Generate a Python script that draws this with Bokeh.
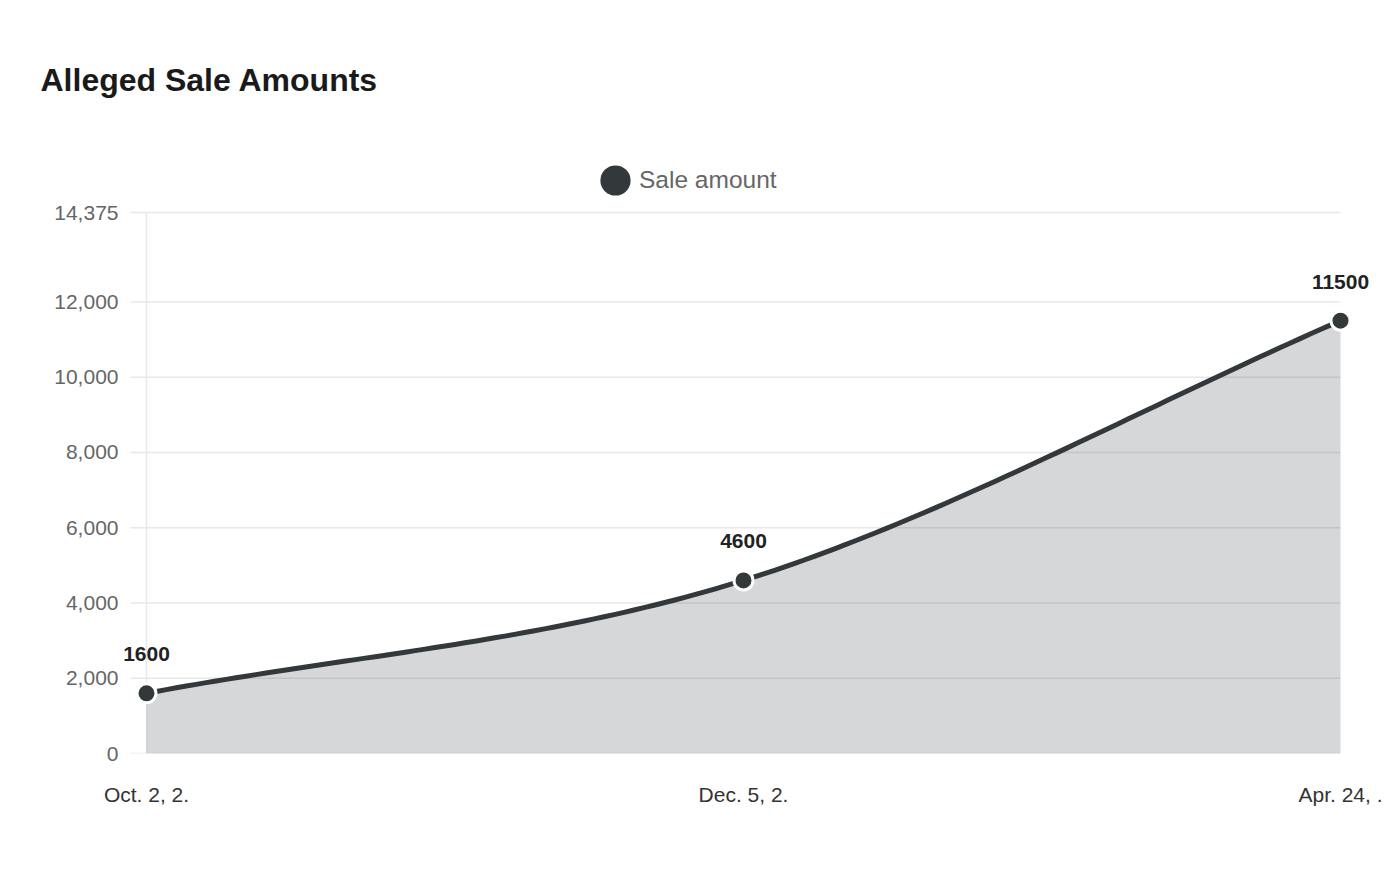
import numpy as np
from bokeh.plotting import figure
from bokeh.models import Range1d, FixedTicker, NumeralTickFormatter, Legend, LegendItem
from bokeh.core.properties import value
from bokeh.embed import file_html
from bokeh.resources import INLINE

# ---- data ----
title_text = "Alleged Sale Amounts"
series_name = "Sale amount"
dates = ["Oct. 2, 2.", "Dec. 5, 2.", "Apr. 24, ."]
amounts = [1600, 4600, 11500]
y_ticks = [0, 2000, 4000, 6000, 8000, 10000, 12000, 14375]

FONT = "Liberation Sans"
DARK = "#33383b"
GRID = "#e8e8e8"

idx = list(range(len(amounts)))


def monotone_curve(xs, ys, n=60):
    """Monotone cubic (Fritsch-Carlson) rendering path through the data points."""
    xs = np.asarray(xs, float)
    ys = np.asarray(ys, float)
    d = np.diff(ys) / np.diff(xs)
    m = np.empty(len(xs))
    m[0], m[-1] = d[0], d[-1]
    for i in range(1, len(xs) - 1):
        m[i] = 0.0 if d[i - 1] * d[i] <= 0 else (d[i - 1] + d[i]) / 2
    for i in range(len(d)):
        if d[i] == 0:
            m[i] = m[i + 1] = 0.0
            continue
        a, b = m[i] / d[i], m[i + 1] / d[i]
        s = a * a + b * b
        if s > 9:
            t = 3 / np.sqrt(s)
            m[i], m[i + 1] = t * a * d[i], t * b * d[i]
    cx, cy = [], []
    for i in range(len(d)):
        h = xs[i + 1] - xs[i]
        t = np.linspace(0, 1, n, endpoint=(i == len(d) - 1))
        h00 = 2 * t**3 - 3 * t**2 + 1
        h10 = t**3 - 2 * t**2 + t
        h01 = -2 * t**3 + 3 * t**2
        h11 = t**3 - t**2
        cx.extend(xs[i] + t * h)
        cy.extend(h00 * ys[i] + h10 * h * m[i] + h01 * ys[i + 1] + h11 * h * m[i + 1])
    return cx, cy


cx, cy = monotone_curve(idx, amounts)

# ---- layout (pixels) ----
W, H = 1384, 864
FL, FT, FB = 100, 130, 753          # frame left / top / bottom
PX_X = 597                          # px per category step
X0_PX = 146                         # px of first category
GRID_LEFT_PX = 130
PLOT_PX = 541                       # px from 0 to top tick

x_start = -(X0_PX - FL) / PX_X
x_end = x_start + (W - FL) / PX_X
grid_x0 = -(X0_PX - GRID_LEFT_PX) / PX_X
y_end = y_ticks[-1] * (FB - FT) / PLOT_PX

p = figure(width=W, height=H, output_backend="svg", toolbar_location=None,
           x_range=Range1d(x_start, x_end), y_range=Range1d(0, y_end),
           min_border_left=FL, min_border_right=0, min_border_top=FT, min_border_bottom=H - FB,
           background_fill_color="white", border_fill_color="white")
p.outline_line_color = None
p.xgrid.visible = False
p.ygrid.visible = False

# title
p.title.text = title_text
p.title.text_font = FONT
p.title.text_font_size = "32px"
p.title.text_font_style = "bold"
p.title.text_color = "#1a1a1a"
p.title.align = "left"
p.title.offset = -60
try:
    p.title.standoff = 65
except Exception:
    pass

# gridlines (drawn as segments so they stop at the last category)
p.segment(x0=[grid_x0] * len(y_ticks), x1=[idx[-1]] * len(y_ticks), y0=y_ticks, y1=y_ticks,
          line_color=GRID, line_width=1.5)
p.segment(x0=[idx[0]], x1=[idx[0]], y0=[0], y1=[y_ticks[-1]], line_color=GRID, line_width=1.5)

# area + line
p.patch(x=cx + [idx[-1], idx[0]], y=cy + [0, 0], fill_color=DARK, fill_alpha=0.2, line_color=None)
p.line(x=cx, y=cy, line_color=DARK, line_width=5, line_join="round", line_cap="round")
p.scatter(x=idx, y=amounts, size=19, fill_color=DARK, line_color="white", line_width=3)

# data labels
p.text(x=idx, y=amounts, text=[str(a) for a in amounts], text_align="center",
       text_baseline="alphabetic", y_offset=-39, text_font=value(FONT),
       text_font_size="21px", text_font_style="bold", text_color="#222222")

# legend (a hidden copy of the points supplies the legend swatch)
legend_swatch = p.scatter(x=idx, y=amounts, fill_color=DARK, line_color=DARK, line_width=11,
                          visible=False)
legend = Legend(items=[LegendItem(label=series_name, renderers=[legend_swatch])],
                location=(591 - FL, FB - 204), glyph_width=48, glyph_height=48,
                label_standoff=0, padding=0, margin=0, border_line_color=None,
                background_fill_alpha=0, label_text_font=FONT, label_text_font_size="24.5px",
                label_text_color="#666666", label_height=48)
p.add_layout(legend, "center")

# axes
ya = p.yaxis[0]
ya.ticker = FixedTicker(ticks=y_ticks)
ya.formatter = NumeralTickFormatter(format="0,0")
ya.axis_line_color = None
ya.major_tick_line_color = None
ya.minor_tick_line_color = None
ya.major_tick_out = 0
ya.major_tick_in = 0
ya.major_label_standoff = -(118 - FL)
ya.major_label_text_font = FONT
ya.major_label_text_font_size = "21px"
ya.major_label_text_color = "#666666"

xa = p.xaxis[0]
xa.ticker = FixedTicker(ticks=idx)
xa.major_label_overrides = {i: d for i, d in zip(idx, dates)}
xa.axis_line_color = None
xa.major_tick_line_color = None
xa.minor_tick_line_color = None
xa.major_tick_out = 0
xa.major_tick_in = 0
xa.major_label_standoff = 29
xa.major_label_text_font = FONT
xa.major_label_text_font_size = "21px"
xa.major_label_text_color = "#333333"

open("out.html", "w").write(file_html(p, INLINE))
